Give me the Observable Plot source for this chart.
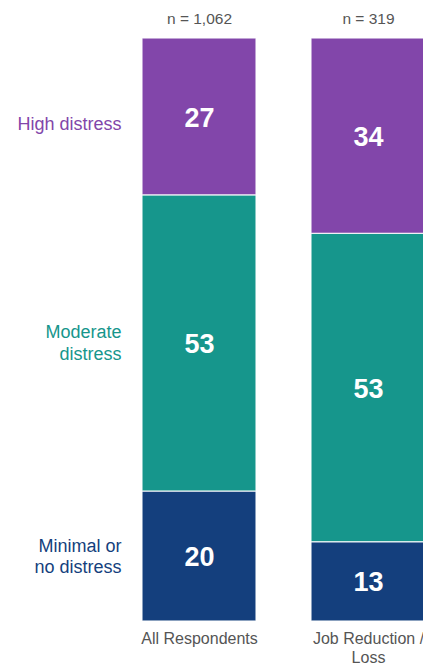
<!DOCTYPE html>
<html>
<head>
<meta charset="utf-8">
<script src="https://cdn.jsdelivr.net/npm/d3@7"></script>
<script src="https://cdn.jsdelivr.net/npm/@observablehq/plot@0.6"></script>
<style>
  html, body { margin: 0; padding: 0; background: #fff; overflow: hidden; }
  #chart { width: 423px; height: 667px; overflow: hidden; }
</style>
</head>
<body>
<div id="chart"></div>
<script>
// Categories (bars) and their labels
const categories = ["All Respondents", "Job Reduction / Loss"];
const tickLabels = ["All Respondents", "Job Reduction /\nLoss"];
const nLabels = ["n = 1,062", "n = 319"];

// Distress levels, bottom to top
const levels = ["Minimal or no distress", "Moderate distress", "High distress"];
const levelLabels = ["Minimal or\nno distress", "Moderate\ndistress", "High distress"];
const levelColors = ["#143f7d", "#16968c", "#8246aa"];

// Segment shares (bottom to top), and printed labels
const allRespondents = [22.3, 50.8, 26.9];
const allRespondentsLabels = ["20", "53", "27"];
const jobLoss = [13.6, 52.9, 33.5];
const jobLossLabels = ["13", "53", "34"];

const seriesValues = [allRespondents, jobLoss];
const seriesLabels = [allRespondentsLabels, jobLossLabels];

const rows = [];
categories.forEach((c, i) => {
  levels.forEach((l, j) => {
    rows.push({category: c, level: l, value: seriesValues[i][j], label: seriesLabels[i][j], levelLabel: levelLabels[j]});
  });
});
const nRows = categories.map((c, i) => ({category: c, n: nLabels[i]}));
const firstRows = rows.filter(d => d.category === categories[0]);
const topLevel = levels[2];

const stackOpts = {x: "category", y: "value", z: "level", order: levels};

const chart = Plot.plot({
  width: 423,
  height: 667,
  marginTop: 38,
  marginBottom: 46,
  marginLeft: 0,
  marginRight: 0,
  style: {fontFamily: "'Liberation Sans', Arial, Helvetica, sans-serif", background: "white"},
  x: {domain: categories, range: [87, 480], padding: 0.325, axis: null},
  y: {domain: [0, 100], axis: null},
  color: {domain: levels, range: levelColors},
  marks: [
    Plot.barY(rows, Plot.stackY({...stackOpts, fill: "level", stroke: "white", strokeWidth: 1.2, strokeOpacity: 0.85})),
    Plot.text(rows, Plot.stackY({...stackOpts, text: "label", fill: "white", fontSize: 27, fontWeight: "bold", dy: 1})),
    Plot.text(firstRows, Plot.stackY({
      ...stackOpts, text: d => d.level !== topLevel ? d.levelLabel : null,
      fill: "level", fontSize: 18, textAnchor: "end", dx: -78, dy: -1, lineHeight: 1.22
    })),
    Plot.text(firstRows, Plot.stackY({
      ...stackOpts, text: d => d.level === topLevel ? d.levelLabel : null,
      fill: "level", fontSize: 18, textAnchor: "end", dx: -78, dy: 7
    })),
    Plot.text(nRows, {x: "category", text: "n", frameAnchor: "top", lineAnchor: "middle", dy: -19, fontSize: 15.5, fill: "#555"}),
    Plot.axisX({
      domain: categories,
      tickSize: 0,
      tickPadding: 8.5,
      fontSize: 16,
      fill: "#555",
      lineHeight: 1.2,
      tickFormat: d => tickLabels[categories.indexOf(d)],
      label: null
    })
  ]
});
document.getElementById("chart").appendChild(chart);
</script>
</body>
</html>
